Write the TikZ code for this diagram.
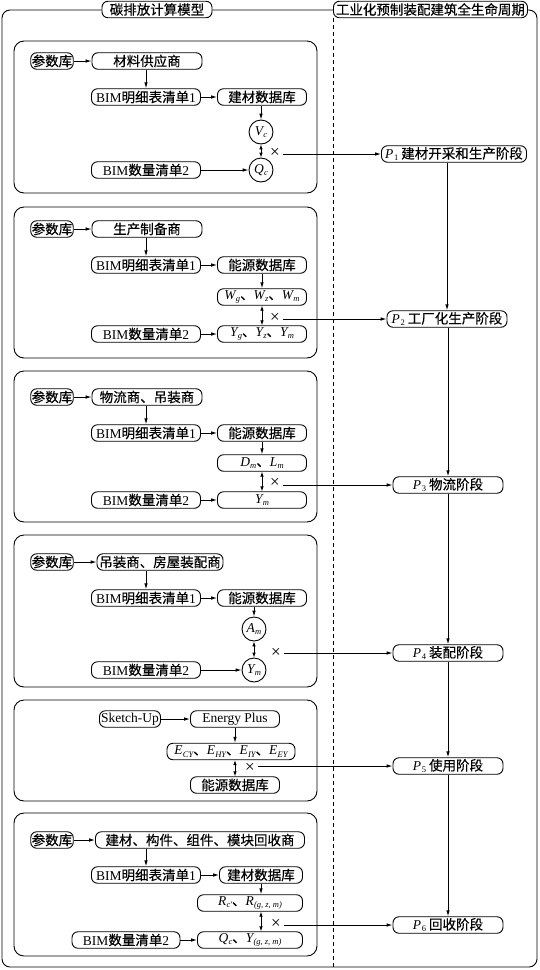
\documentclass[tikz,border=0pt]{standalone}
\usepackage{fontspec}
\setmainfont{Noto Sans CJK SC}[FakeBold=0.4]
\newfontfamily\lat{Liberation Serif}
\usetikzlibrary{arrows.meta}
\newcommand\iv[2]{{\lat\itshape #1\kern0.2pt\raisebox{-2.4pt}{\fontsize{8.5}{8.5}\selectfont #2}}}
\newcommand\ivu[2]{{\lat\itshape #1\kern0.6pt\raisebox{-2.4pt}{\fontsize{8.5}{8.5}\selectfont\upshape #2}}}
\begin{document}
\begin{tikzpicture}[x=1pt,y=-1pt,
 every node/.style={font=\fontsize{13.5}{15}\selectfont},
 box/.style={draw, rounded corners=6pt, minimum height=16.5pt, inner sep=1pt, line width=0.9pt},
 circ/.style={draw, circle, minimum size=24pt, inner sep=0pt, line width=0.9pt},
 panel/.style={draw, rounded corners=10pt, line width=0.9pt},
 arr/.style={-{Latex[length=6pt,width=3.6pt]}, line width=0.9pt},
 darr/.style={{Latex[length=5pt,width=3.6pt]}-{Latex[length=5pt,width=3.6pt]}, line width=0.9pt},
 ln/.style={line width=0.9pt},
 cross/.style={inner sep=0pt, outer sep=3pt, font=\lat\fontsize{17}{17}\selectfont},
]
\useasboundingbox (0,0) rectangle (539,970);
% outer frame
\draw[ln, rounded corners=8pt] (2,10) rectangle (537,967);
\node[box, fill=white, minimum width=110pt] (t1) at (157,9.5) {碳排放计算模型};
\node[box, fill=white, minimum width=194pt, anchor=west] (t2) at (333,9.5) {工业化预制装配建筑全生命周期};
\coordinate (db) at (333,967);
\draw[ln, dash pattern=on 4pt off 3pt] (t2.south west) -- (db);
% panels
\draw[panel] (14,41) rectangle (317,193);
\draw[panel] (14,207) rectangle (317,358);
\draw[panel] (14,371) rectangle (317,522);
\draw[panel] (14,535) rectangle (317,687);
\draw[panel] (14,700) rectangle (317,801);
\draw[panel] (14,813) rectangle (317,956);
% P nodes
\node[box, minimum width=145pt] (p1) at (454,154) {\ivu{P}{1} 建材开采和生产阶段};
\node[box, minimum width=120pt] (p2) at (447,319) {\ivu{P}{2} 工厂化生产阶段};
\node[box, minimum width=110pt] (p3) at (448,485) {\ivu{P}{3} 物流阶段};
\node[box, minimum width=110pt] (p4) at (448,653) {\ivu{P}{4} 装配阶段};
\node[box, minimum width=110pt] (p5) at (448,766) {\ivu{P}{5} 使用阶段};
\node[box, minimum width=110pt] (p6) at (448,925) {\ivu{P}{6} 回收阶段};
\draw[arr] (p2.north |- p1.south) -- (p2.north);
\draw[arr] (p3.north |- p2.south) -- (p3.north);
\draw[arr] (p4.north |- p3.south) -- (p4.north);
\draw[arr] (p5.north |- p4.south) -- (p5.north);
\draw[arr] (p6.north |- p5.south) -- (p6.north);
% panel 1
\node[box, minimum width=42pt] (a1) at (52,61) {参数库};
\node[box, minimum width=110pt] (b1) at (147,61) {材料供应商};
\node[box, minimum width=109pt] (c1) at (146,97) {{\lat BIM}明细表清单{\lat 1}};
\node[box, minimum width=89pt] (d1) at (262,97) {建材数据库};
\node[circ] (v1) at (261,132) {\iv{V}{c}};
\node[circ] (q1) at (261,170) {\iv{Q}{c}};
\node[box, minimum width=109pt] (e1) at (146,170) {{\lat BIM}数量清单{\lat 2}};
\node[cross] (x1) at (275,153) {×};
\draw[arr] (a1) -- (b1);
\draw[arr] (c1.north |- b1.south) -- (c1.north);
\draw[arr] (c1) -- (d1);
\draw[arr] (v1.north |- d1.south) -- (v1.north);
\draw[darr] (v1) -- (q1);
\draw[arr] (e1) -- (q1);
\draw[arr] (x1.east |- p1.west) -- (p1.west);
% panel 2
\node[box, minimum width=42pt] (a2) at (52,229) {参数库};
\node[box, minimum width=110pt] (b2) at (147,229) {生产制备商};
\node[box, minimum width=109pt] (c2) at (146,265) {{\lat BIM}明细表清单{\lat 1}};
\node[box, minimum width=89pt] (d2) at (262,265) {能源数据库};
\node[box, minimum width=89pt] (w2) at (262,297) {\iv{W}{g}、\iv{W}{z}、\iv{W}{m}};
\node[box, minimum width=89pt] (y2) at (262,334) {\iv{Y}{g}、\iv{Y}{z}、\iv{Y}{m}};
\node[box, minimum width=109pt] (e2) at (146,334) {{\lat BIM}数量清单{\lat 2}};
\node[cross] (x2) at (275,318) {×};
\draw[arr] (a2) -- (b2);
\draw[arr] (c2.north |- b2.south) -- (c2.north);
\draw[arr] (c2) -- (d2);
\draw[arr] (d2) -- (w2);
\draw[darr] (w2) -- (y2);
\draw[arr] (e2) -- (y2);
\draw[arr] (x2.east |- p2.west) -- (p2.west);
% panel 3
\node[box, minimum width=42pt] (a3) at (52,397) {参数库};
\node[box, minimum width=110pt] (b3) at (147,397) {物流商、吊装商};
\node[box, minimum width=109pt] (c3) at (146,433) {{\lat BIM}明细表清单{\lat 1}};
\node[box, minimum width=89pt] (d3) at (262,433) {能源数据库};
\node[box, minimum width=89pt] (l3) at (262,463) {\iv{D}{m}、\iv{L}{m}};
\node[box, minimum width=89pt] (y3) at (262,500) {\iv{Y}{m}};
\node[box, minimum width=109pt] (e3) at (146,500) {{\lat BIM}数量清单{\lat 2}};
\node[cross] (x3) at (275,483) {×};
\draw[arr] (a3) -- (b3);
\draw[arr] (c3.north |- b3.south) -- (c3.north);
\draw[arr] (c3) -- (d3);
\draw[arr] (d3) -- (l3);
\draw[darr] (l3) -- (y3);
\draw[arr] (e3) -- (y3);
\draw[arr] (x3.east |- p3.west) -- (p3.west);
% panel 4
\node[box, minimum width=42pt] (a4) at (52,562) {参数库};
\node[box, minimum width=126pt] (b4) at (160,562) {吊装商、房屋装配商};
\node[box, minimum width=109pt] (c4) at (146,598) {{\lat BIM}明细表清单{\lat 1}};
\node[box, minimum width=89pt] (d4) at (262,598) {能源数据库};
\node[circ] (m4) at (254,629) {\iv{A}{m}};
\node[circ] (y4) at (254,670) {\iv{Y}{m}};
\node[box, minimum width=109pt] (e4) at (146,670) {{\lat BIM}数量清单{\lat 2}};
\node[cross] (x4) at (276,653) {×};
\draw[arr] (a4) -- (b4);
\draw[arr] (c4.north |- b4.south) -- (c4.north);
\draw[arr] (c4) -- (d4);
\draw[arr] (m4.north |- d4.south) -- (m4.north);
\draw[darr] (m4) -- (y4);
\draw[arr] (e4) -- (y4);
\draw[arr] (x4.east |- p4.west) -- (p4.west);
% panel 5
\node[box, minimum width=61pt] (s5) at (130,719) {\lat Sketch-Up};
\node[box, minimum width=89pt] (g5) at (235,719) {\lat Energy Plus};
\node[box, minimum width=128pt] (e5) at (231,751.5) {\iv{E}{CY}、\iv{E}{HY}、\iv{E}{IY}、\iv{E}{EY}};
\node[box, minimum width=89pt] (n5) at (235,785) {能源数据库};
\node[cross] (x5) at (250,768) {×};
\draw[arr] (s5) -- (g5);
\draw[arr] (g5.south) -- (g5.south |- e5.north);
\draw[darr] (n5.north |- e5.south) -- (n5.north);
\draw[arr] (x5.east |- p5.west) -- (p5.west);
% panel 6
\node[box, minimum width=42pt] (a6) at (52,840) {参数库};
\node[box, minimum width=209pt] (b6) at (200,840) {建材、构件、组件、模块回收商};
\node[box, minimum width=109pt] (c6) at (146,875) {{\lat BIM}明细表清单{\lat 1}};
\node[box, minimum width=83pt] (d6) at (261,875) {建材数据库};
\node[box, minimum width=105pt] (r6) at (250,903) {\iv{R}{c'}、\iv{R}{(g, z, m)}};
\node[box, minimum width=105pt] (q6) at (250,940) {\iv{Q}{c}、\iv{Y}{(g, z, m)}};
\node[box, minimum width=108pt] (e6) at (126,940) {{\lat BIM}数量清单{\lat 2}};
\node[cross] (x6) at (276,924) {×};
\draw[arr] (a6) -- (b6);
\draw[arr] (c6.north |- b6.south) -- (c6.north);
\draw[arr] (c6) -- (d6);
\draw[arr] (d6.south) -- (d6.south |- r6.north);
\draw[darr] (d6.south |- r6.south) -- (d6.south |- q6.north);
\draw[arr] (e6) -- (q6);
\draw[arr] (x6.east |- p6.west) -- (p6.west);
\end{tikzpicture}
\end{document}
